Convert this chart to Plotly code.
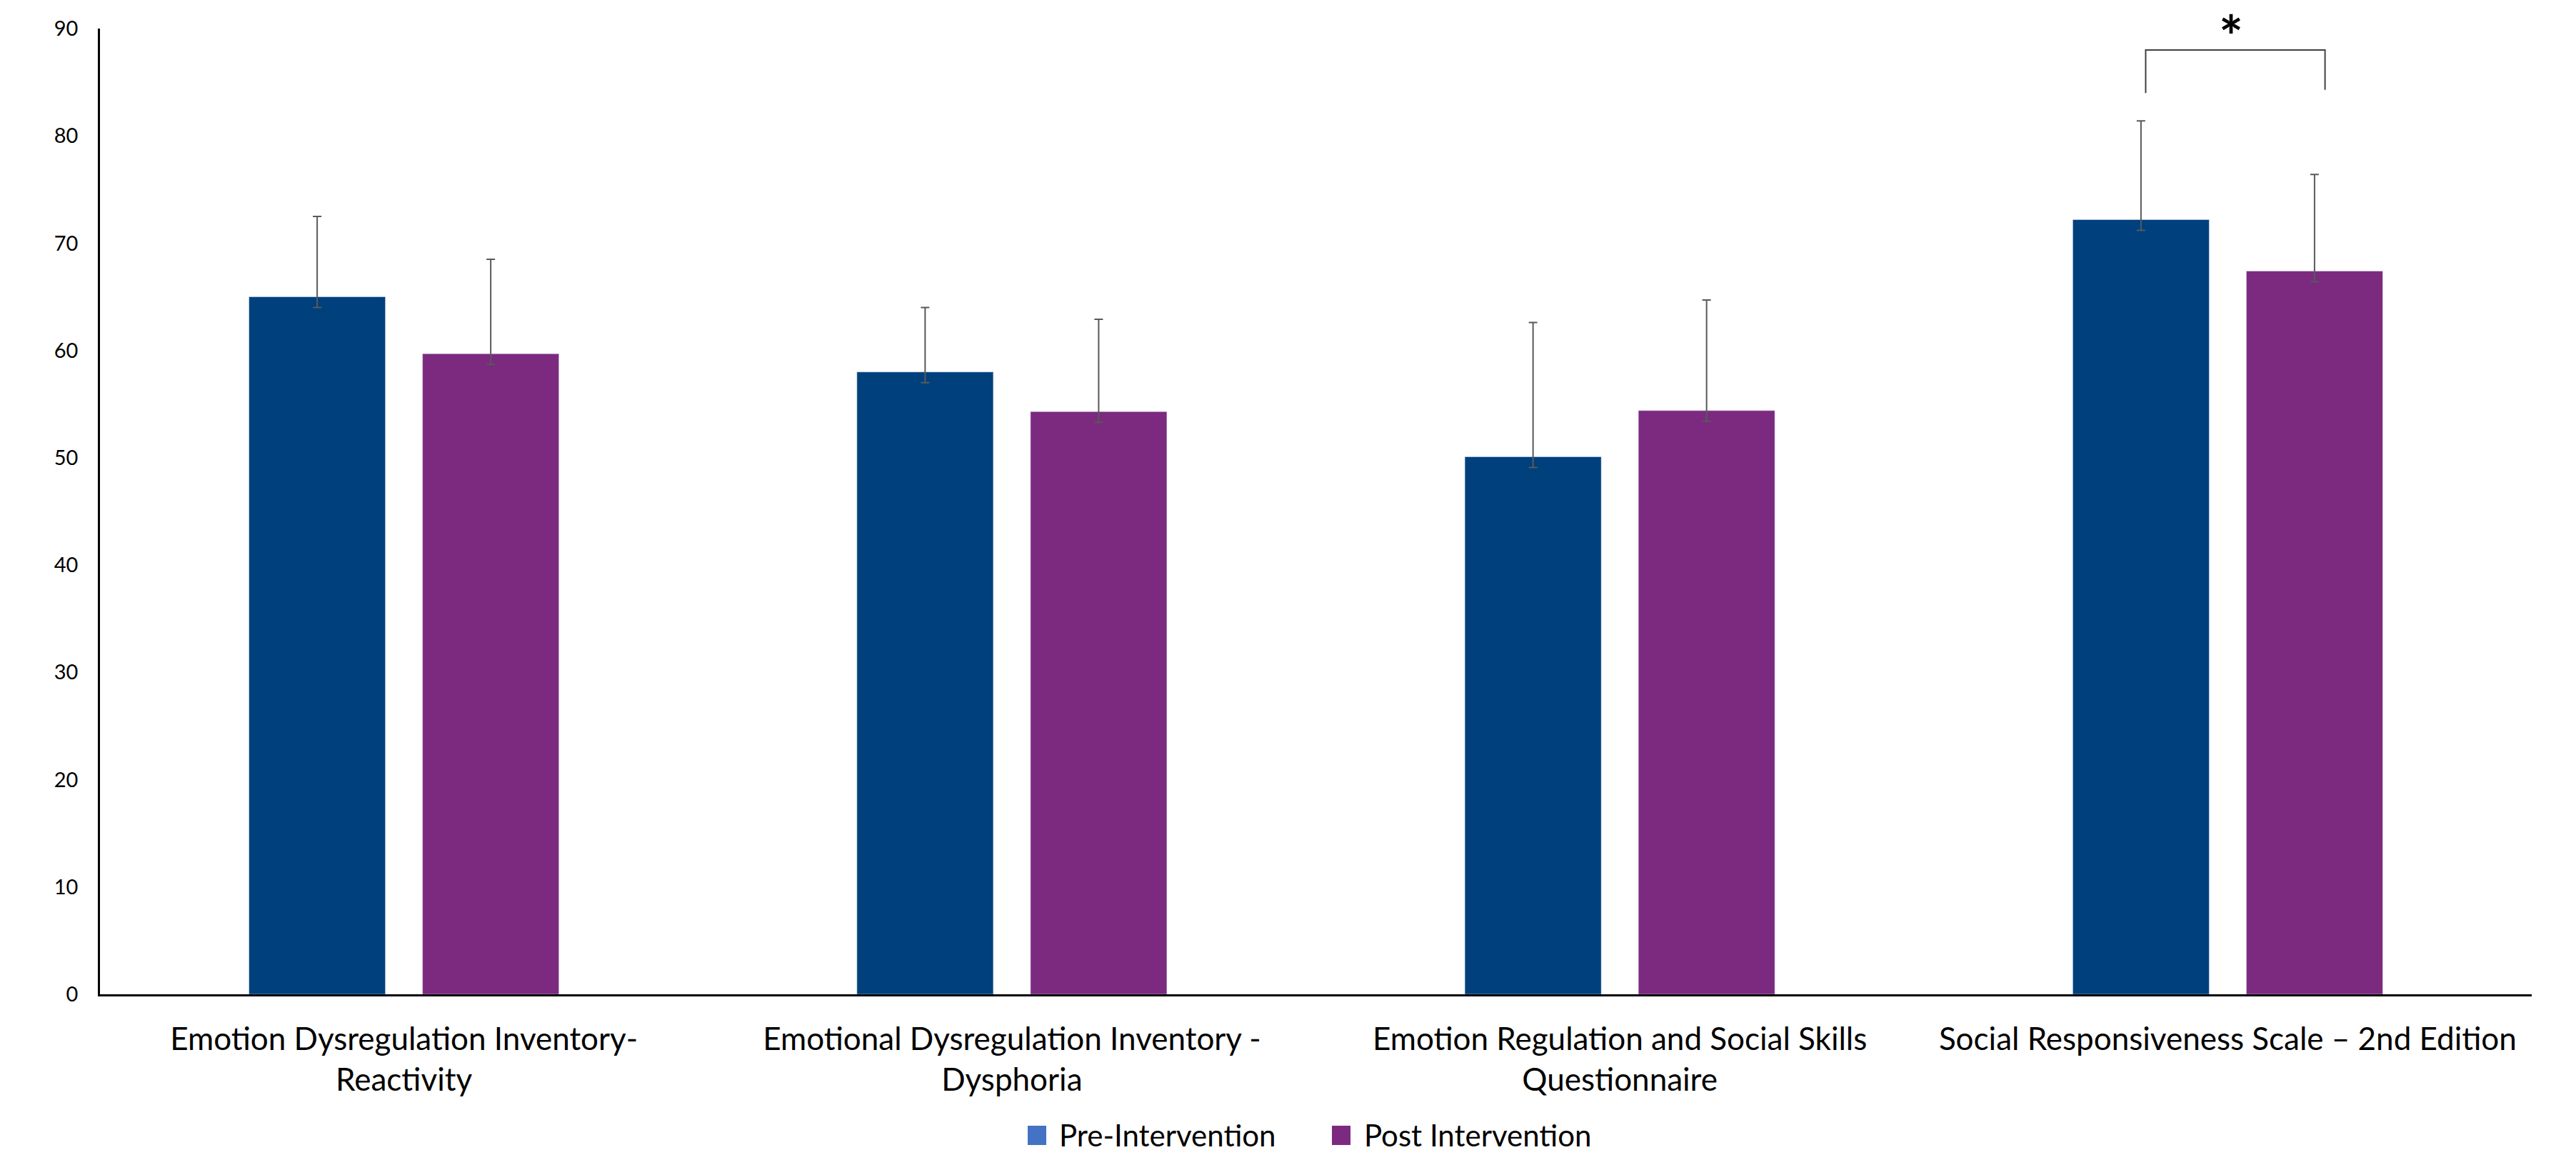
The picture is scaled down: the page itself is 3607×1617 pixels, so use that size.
import plotly.graph_objects as go

categories = [
    "Emotion Dysregulation Inventory-<br>Reactivity",
    "Emotional Dysregulation Inventory -<br>Dysphoria",
    "Emotion Regulation and Social Skills<br>Questionnaire",
    "Social Responsiveness Scale – 2nd Edition",
]
pre_values = [65.0, 58.0, 50.1, 72.2]
post_values = [59.7, 54.3, 54.4, 67.4]
pre_err_plus = [7.5, 6.0, 12.5, 9.2]
pre_err_minus = [1.0, 1.0, 1.0, 1.0]
post_err_plus = [8.8, 8.6, 10.3, 9.0]
post_err_minus = [1.0, 1.0, 1.0, 1.0]
y_ticks = [0, 10, 20, 30, 40, 50, 60, 70, 80, 90]
series_names = ["Pre-Intervention", "Post Intervention"]
legend_colors = ["#4472C4", "#7B2A80"]

FONT = "Lato, 'Open Sans', sans-serif"
PRE_COLOR = "#00407D"
POST_COLOR = "#7B2A7F"
ERR_COLOR = "#595959"

W, H = 3607, 1617
ML, MR, MT, MB = 140, 62, 40, 225
PW, PH = W - ML - MR, H - MT - MB


def px_x(px):
    return (px - ML) / PW


def px_y(py):
    return (H - MB - py) / PH


fig = go.Figure()
fig.add_trace(go.Bar(
    x=categories, y=pre_values, name=series_names[0], marker_color=PRE_COLOR,
    showlegend=False,
    error_y=dict(type="data", symmetric=False, array=pre_err_plus, arrayminus=pre_err_minus,
                 color=ERR_COLOR, thickness=2, width=6),
))
fig.add_trace(go.Bar(
    x=categories, y=post_values, name=series_names[1], marker_color=POST_COLOR,
    showlegend=False,
    error_y=dict(type="data", symmetric=False, array=post_err_plus, arrayminus=post_err_minus,
                 color=ERR_COLOR, thickness=2, width=6),
))

# significance bracket on the last category
sig_idx = 3
fig.add_shape(type="path", xref="x", yref="y",
              path=f"M {sig_idx - 0.135},84.0 L {sig_idx - 0.135},88.0 L {sig_idx + 0.16},88.0 L {sig_idx + 0.16},84.3",
              line=dict(color="#404040", width=2))
fig.add_annotation(x=sig_idx + 0.005, y=px_y(50), xref="x", yref="paper", text="<b>*</b>",
                   showarrow=False, font=dict(family=FONT, size=80, color="#000000"),
                   yanchor="middle", xanchor="center")

# legend drawn manually (large square swatches)
legend_marker_x = [1439, 1865]
legend_text_x = [1481, 1908]
for name, col, mx, tx in zip(series_names, legend_colors, legend_marker_x, legend_text_x):
    fig.add_shape(type="rect", xref="paper", yref="paper",
                  x0=px_x(mx), x1=px_x(mx + 26), y0=px_y(1603), y1=px_y(1576),
                  fillcolor=col, line=dict(width=0))
    fig.add_annotation(x=px_x(tx), y=px_y(1589), xref="paper", yref="paper", text=name,
                       showarrow=False, xanchor="left", yanchor="middle",
                       font=dict(family=FONT, size=42, color="#000000"))

fig.update_layout(
    width=W, height=H,
    margin=dict(l=ML, r=MR, t=MT, b=MB, autoexpand=False),
    paper_bgcolor="white", plot_bgcolor="white",
    barmode="group", bargap=0.429, bargroupgap=0.214,
    font=dict(family=FONT, color="#000000"),
    showlegend=False,
    xaxis=dict(showgrid=False, showline=True, linecolor="#000000", linewidth=2.5,
               ticks="", tickfont=dict(family=FONT, size=44, color="#000000"),
               range=[-0.5, 3.5], automargin=False, ticklabelstandoff=22),
    yaxis=dict(showgrid=False, showline=True, linecolor="#000000", linewidth=2.5,
               range=[0, 90], tickvals=y_ticks, ticks="", zeroline=False,
               tickfont=dict(family=FONT, size=29, color="#000000"),
               ticklabelstandoff=22, automargin=False),
)

fig.write_html("out.html")
